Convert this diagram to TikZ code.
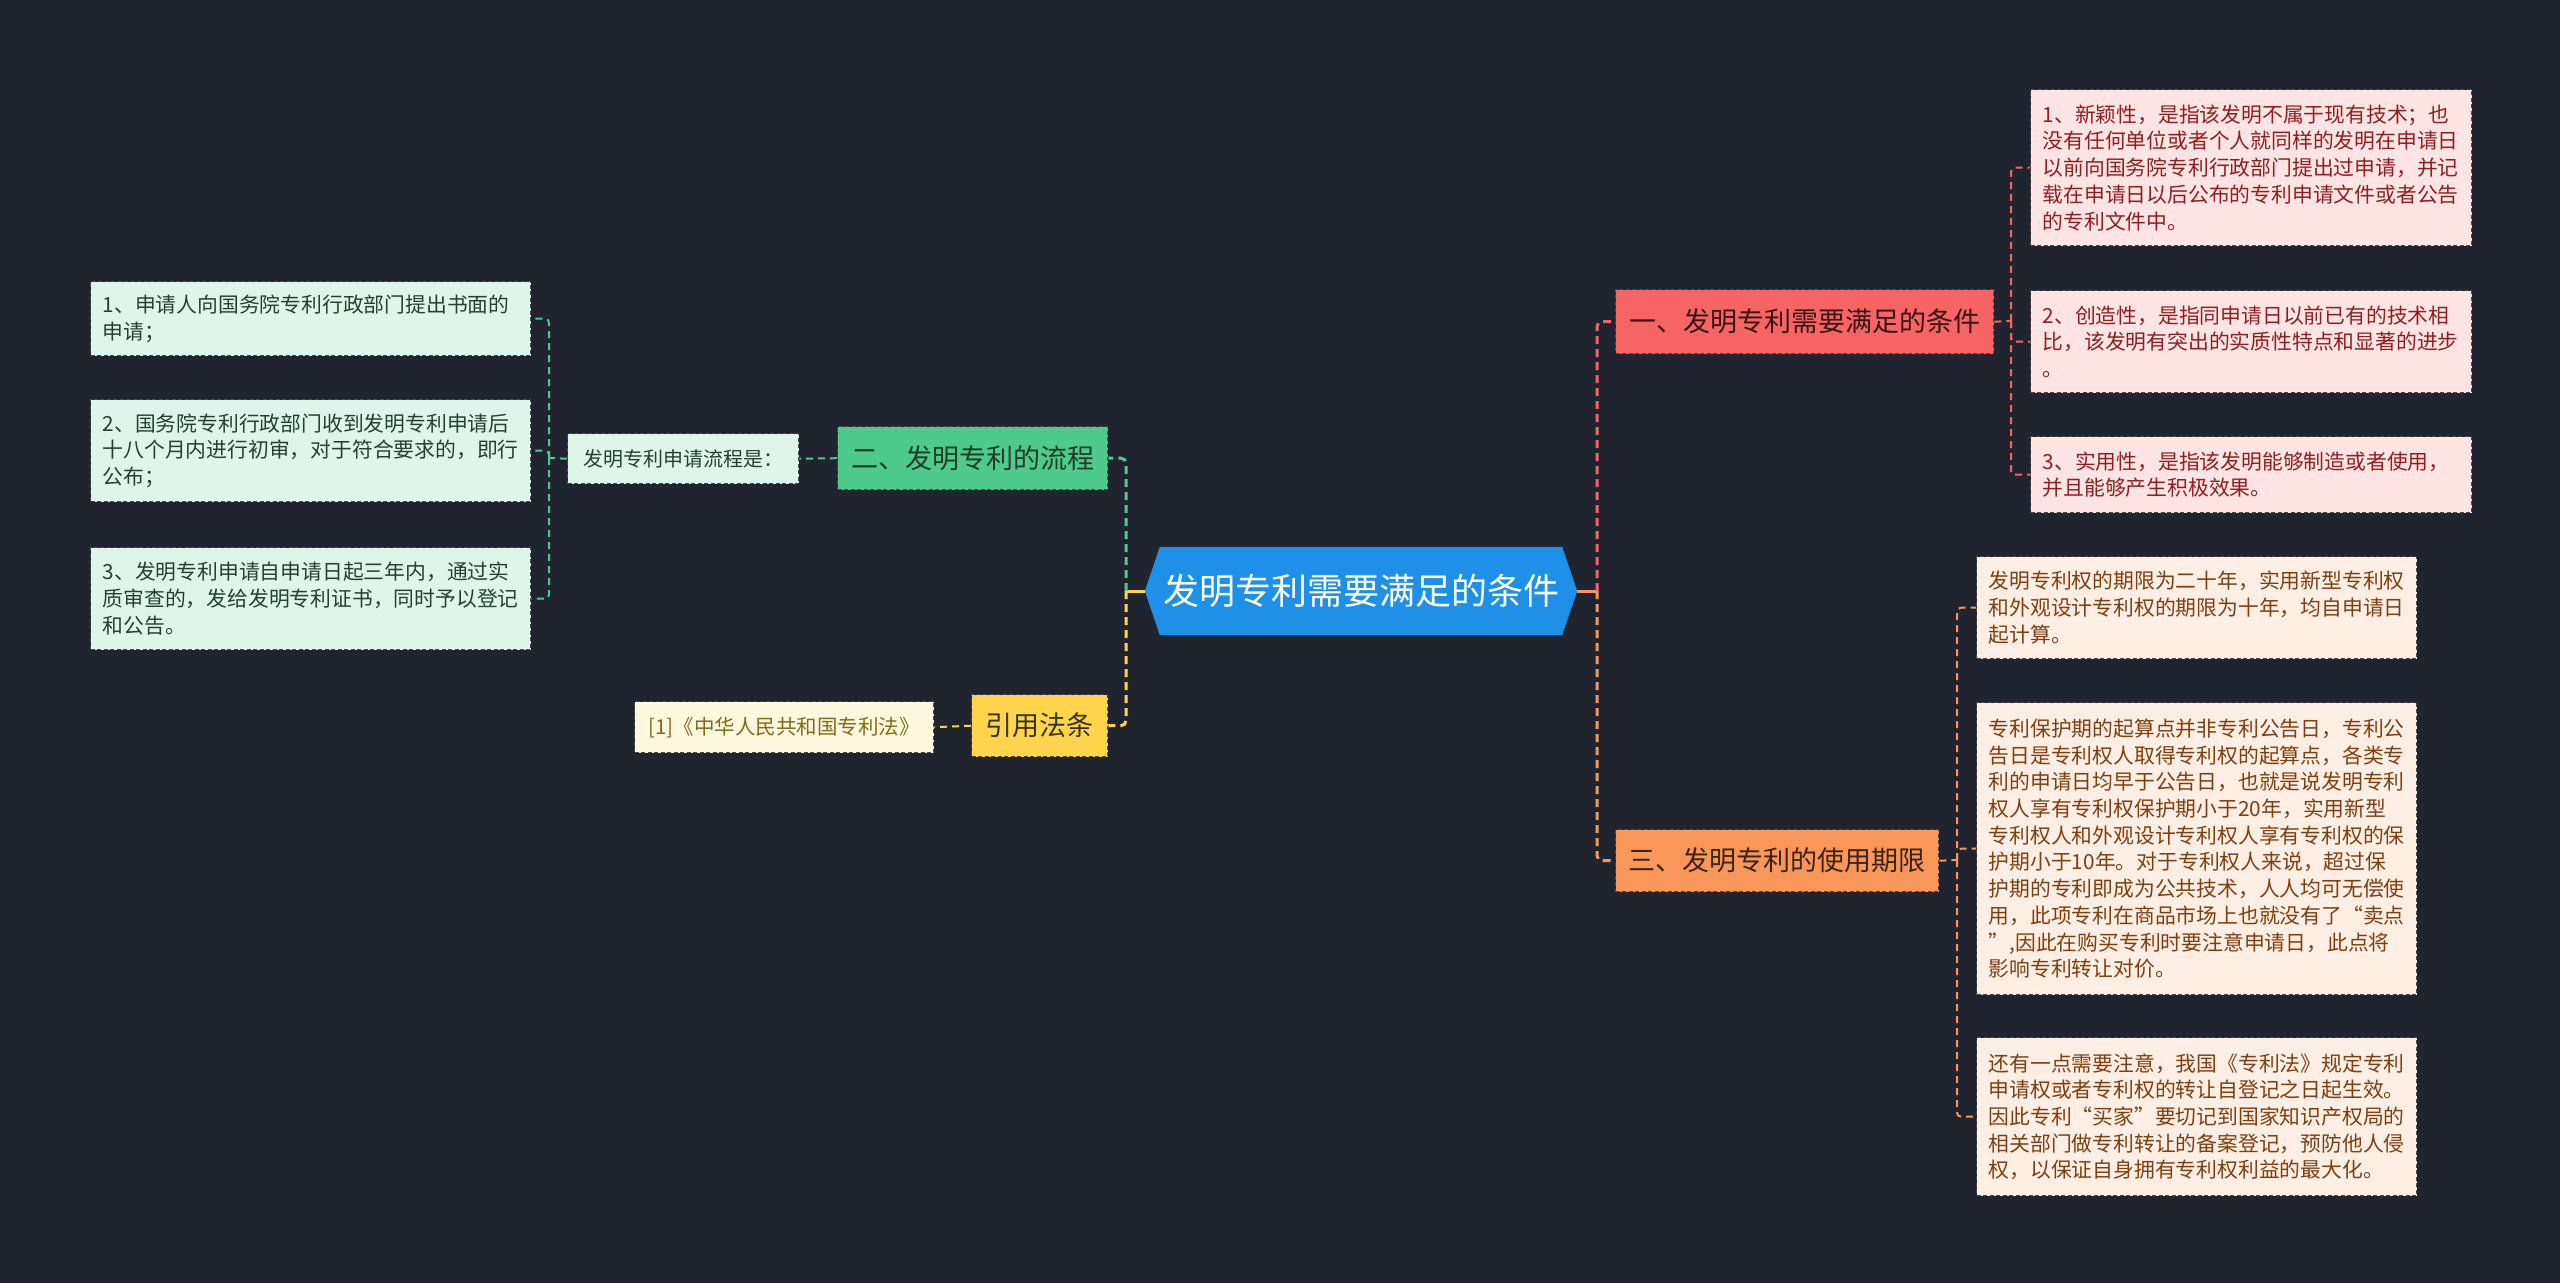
\documentclass[tikz,border=0pt]{standalone}
\usepackage{fontspec}
\setmainfont{Noto Sans CJK SC}
\usepackage{tikz}
\pgfdeclarelayer{pagebg}
\pgfdeclarelayer{shapebg}
\pgfsetlayers{pagebg,shapebg,main}
\definecolor{bgc}{HTML}{20242F}
\definecolor{hubc}{HTML}{1E90E8}
\definecolor{redC}{HTML}{F66464}
\definecolor{orgC}{HTML}{F9965A}
\definecolor{grnC}{HTML}{4DCA8C}
\definecolor{ylwC}{HTML}{FFD54E}
\definecolor{redT}{HTML}{3A1414}
\definecolor{orgT}{HTML}{3D2410}
\definecolor{grnT}{HTML}{1F3D2C}
\definecolor{ylwT}{HTML}{3A3215}
\definecolor{pinkF}{HTML}{FFE4E4}
\definecolor{pinkT}{HTML}{8E1F1F}
\definecolor{peachF}{HTML}{FEEEE3}
\definecolor{peachT}{HTML}{7C3F12}
\definecolor{mintF}{HTML}{DDF6E9}
\definecolor{mintT}{HTML}{24402F}
\definecolor{creamF}{HTML}{FFF8DE}
\definecolor{creamT}{HTML}{826A18}
\definecolor{edgeC}{HTML}{4A4A4A}
\begin{document}
\begin{tikzpicture}[x=1pt,y=-1pt,
  box/.style={rectangle, anchor=north west, inner ysep=0pt, draw=edgeC, line width=1.4pt, dash pattern=on 4pt off 2.5pt, align=left},
  leaf/.style={box, inner xsep=12pt, font=\fontsize{20.8pt}{26.7pt}\selectfont},
  branch/.style={box, inner xsep=0pt, align=center, font=\fontsize{27pt}{32pt}\selectfont},
  link/.style={line width=3pt, dash pattern=on 8pt off 5pt, rounded corners=5pt},
  stub/.style={line width=3pt},
  leaflink/.style={line width=2pt, dash pattern=on 7pt off 5pt, rounded corners=4pt}]
\useasboundingbox (0,0) rectangle (2560,1283);
\begin{pgfonlayer}{pagebg}
\fill[bgc] (0,0) rectangle (2560,1283);
\end{pgfonlayer}

% hub
\node[inner sep=0pt, minimum width=432pt, minimum height=88pt, text=white, font=\fontsize{36pt}{40pt}\selectfont] (hub) at (1361,591) {发明专利需要满足的条件};
\begin{pgfonlayer}{shapebg}
\fill[hubc] (hub.west) -- ([xshift=15pt]hub.north west) -- ([xshift=-15pt]hub.north east) -- (hub.east) -- ([xshift=-15pt]hub.south east) -- ([xshift=15pt]hub.south west) -- cycle;
\end{pgfonlayer}

% branches
\node[branch, fill=redC, text=redT, minimum width=378pt, minimum height=64pt] (b1) at (1615,289) {一、发明专利需要满足的条件};
\node[branch, fill=orgC, text=orgT, minimum width=323pt, minimum height=62pt] (b3) at (1615,829) {三、发明专利的使用期限};
\node[branch, fill=grnC, text=grnT, minimum width=270pt, minimum height=63pt] (b2) at (837,426) {二、发明专利的流程};
\node[branch, fill=ylwC, text=ylwT, minimum width=136pt, minimum height=62pt] (b4) at (971,694) {引用法条};

% right leaves of b1
\node[leaf, fill=pinkF, text=pinkT, text width=417pt, minimum height=156pt] (r1) at (2030,89) {1、新颖性，是指该发明不属于现有技术；也\\没有任何单位或者个人就同样的发明在申请日\\以前向国务院专利行政部门提出过申请，并记\\载在申请日以后公布的专利申请文件或者公告\\的专利文件中。};
\node[leaf, fill=pinkF, text=pinkT, text width=417pt, minimum height=102pt] (r2) at (2030,290) {2、创造性，是指同申请日以前已有的技术相\\比，该发明有突出的实质性特点和显著的进步\\。};
\node[leaf, fill=pinkF, text=pinkT, text width=417pt, minimum height=76pt] (r3) at (2030,436) {3、实用性，是指该发明能够制造或者使用，\\并且能够产生积极效果。};

% right leaves of b3
\node[leaf, fill=peachF, text=peachT, text width=416pt, minimum height=102pt] (s1) at (1976,556) {发明专利权的期限为二十年，实用新型专利权\\和外观设计专利权的期限为十年，均自申请日\\起计算。};
\node[leaf, fill=peachF, text=peachT, text width=416pt, minimum height=292pt] (s2) at (1976,702) {专利保护期的起算点并非专利公告日，专利公\\告日是专利权人取得专利权的起算点，各类专\\利的申请日均早于公告日，也就是说发明专利\\权人享有专利权保护期小于20年，实用新型\\专利权人和外观设计专利权人享有专利权的保\\护期小于10年。对于专利权人来说，超过保\\护期的专利即成为公共技术，人人均可无偿使\\用，此项专利在商品市场上也就没有了“卖点\\”,因此在购买专利时要注意申请日，此点将\\影响专利转让对价。};
\node[leaf, fill=peachF, text=peachT, text width=416pt, minimum height=158pt] (s3) at (1976,1037) {还有一点需要注意，我国《专利法》规定专利\\申请权或者专利权的转让自登记之日起生效。\\因此专利“买家”要切记到国家知识产权局的\\相关部门做专利转让的备案登记，预防他人侵\\权，以保证自身拥有专利权利益的最大化。};

% left side
\node[leaf, fill=mintF, text=mintT, font=\fontsize{20pt}{26pt}\selectfont, inner xsep=0pt, align=center, minimum width=231pt, minimum height=50pt] (p) at (567,433) {发明专利申请流程是：};
\node[leaf, fill=mintF, text=mintT, text width=416pt, minimum height=74pt] (l1) at (90,281) {1、申请人向国务院专利行政部门提出书面的\\申请；};
\node[leaf, fill=mintF, text=mintT, text width=416pt, minimum height=102pt] (l2) at (90,399) {2、国务院专利行政部门收到发明专利申请后\\十八个月内进行初审，对于符合要求的，即行\\公布；};
\node[leaf, fill=mintF, text=mintT, text width=416pt, minimum height=102pt] (l3) at (90,547) {3、发明专利申请自申请日起三年内，通过实\\质审查的，发给发明专利证书，同时予以登记\\和公告。};
\node[leaf, fill=creamF, text=creamT, font=\fontsize{20.5pt}{26pt}\selectfont, inner xsep=0pt, align=center, minimum width=299pt, minimum height=51pt] (ref) at (634,701) {[1]《中华人民共和国专利法》};

% hub connectors
\coordinate (rbus) at (1597,591);
\coordinate (lbus) at (1126,591);
\draw[stub, orgC] (hub.east) -- (rbus);
\draw[link, redC] (rbus) |- (b1.west);
\draw[link, orgC] (rbus) |- (b3.west);
\draw[stub, ylwC] (hub.west) -- (lbus);
\draw[link, grnC] (lbus) |- (b2.east);
\draw[link, ylwC] (lbus) |- (b4.east);

% b1 leaves
\coordinate (r1bus) at (2011,321);
\draw[leaflink, redC] (b1.east) -- (r1bus);
\draw[leaflink, redC] (r1bus) |- (r1.west);
\draw[leaflink, redC] (r1bus) |- (r2.west);
\draw[leaflink, redC] (r1bus) |- (r3.west);

% b3 leaves
\coordinate (s3bus) at (1957,860);
\draw[leaflink, orgC] (b3.east) -- (s3bus);
\draw[leaflink, orgC] (s3bus) |- (s1.west);
\draw[leaflink, orgC] (s3bus) |- (s2.west);
\draw[leaflink, orgC] (s3bus) |- (s3.west);

% b2 leaves
\draw[leaflink, grnC] (b2.west) -- (p.east);
\coordinate (pbus) at (549,458);
\draw[leaflink, grnC] (p.west) -- (pbus);
\draw[leaflink, grnC] (pbus) |- (l1.east);
\draw[leaflink, grnC] (pbus) |- (l2.east);
\draw[leaflink, grnC] (pbus) |- (l3.east);

% b4 leaf
\draw[leaflink, ylwC] (b4.west) -- (ref.east);
\end{tikzpicture}
\end{document}
